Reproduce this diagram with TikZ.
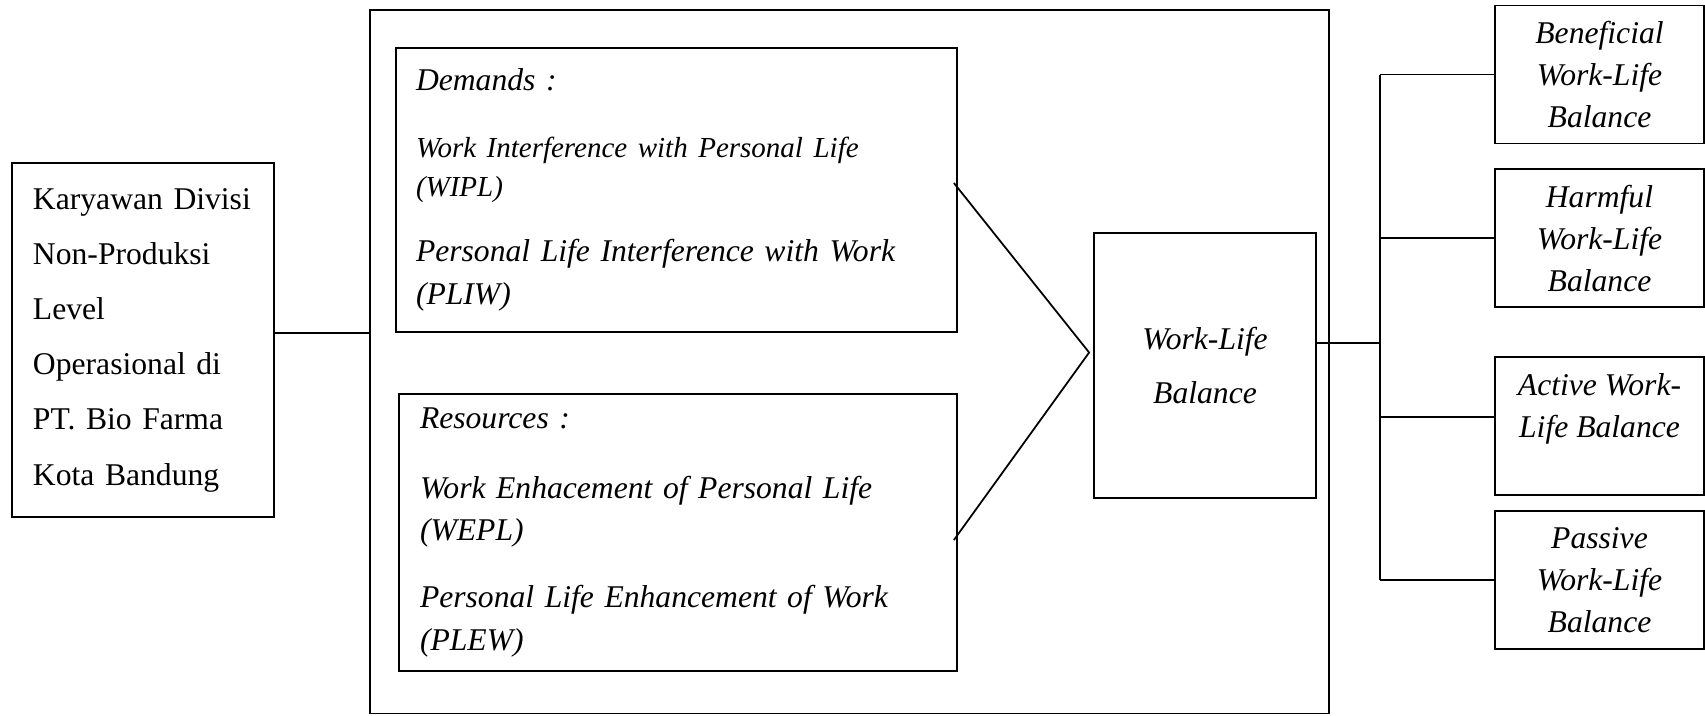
\documentclass[tikz,border=0pt]{standalone}
\usepackage{fontspec}
\setmainfont{Liberation Serif}
\usetikzlibrary{positioning}

\begin{document}
\begin{tikzpicture}[
  blk/.style={rectangle, draw, line width=0.5pt, inner xsep=0.2cm,
    inner ysep=0pt, font=\fontsize{9}{12.2}\selectfont},
  grp/.style={blk, font=\fontsize{9}{12.2}\selectfont\itshape, align=left},
  outc/.style={blk, minimum width=2.09cm, minimum height=1.38cm,
    align=center, font=\fontsize{9}{11.9}\selectfont\itshape},
  link/.style={line width=0.5pt},
]
\useasboundingbox (0,0) rectangle (17.05,-7.15);

%% Frame round demands and resources
\node[blk, minimum width=9.59cm, minimum height=7.036cm] (F) at (8.495,-3.618) {};

%% Population
\node[blk, minimum width=2.62cm, minimum height=3.54cm, text width=2.2cm,
  align=left, font=\fontsize{9}{15.7}\selectfont] (K) at (1.43,-3.40)
  {Karyawan Divisi\\ Non-Produksi\\ Level\\ Operasional di\\ PT. Bio Farma\\ Kota Bandung};

%% Demands / Resources
\node[grp, minimum width=5.61cm, minimum height=2.84cm, text width=5.21cm] (D) at (6.765,-1.90)
  {Demands :\\[6.8pt]
   {\fontsize{8.25}{12.2}\selectfont Work Interference with Personal Life}\\[-1.1pt]
   {\fontsize{8.25}{12.2}\selectfont (WIPL)}\\[6.5pt]
   Personal Life Interference with Work\\
   (PLIW)};
\node[grp, minimum width=5.58cm, minimum height=2.77cm, text width=5.16cm,
  inner xsep=0.21cm] (R) at (6.78,-5.325)
  {Resources :\\[7.6pt]
   Work Enhacement of Personal Life\\
   (WEPL)\\[6.8pt]
   Personal Life Enhancement of Work\\
   (PLEW)};

%% Work-Life Balance
\node[blk, minimum width=2.22cm, minimum height=2.65cm, align=center,
  font=\fontsize{9}{15.6}\selectfont\itshape] (W) at (12.05,-3.655)
  {Work-Life\\ Balance};

%% Outcomes
\node[outc] (B1) at (15.995,-0.745) {Beneficial\\ Work-Life\\ Balance};
\node[outc] (B2) at (15.995,-2.383) {Harmful\\ Work-Life\\ Balance};
\node[outc] (B3) at (15.995,-4.262) {Active Work-\\Life Balance\\ \mbox{}};
\node[outc] (B4) at (15.995,-5.803) {Passive\\ Work-Life\\ Balance};

%% Connectors
\draw[link] ([yshift=0.07cm]K.east) coordinate (kl) -- (kl -| F.west);
\coordinate (conv) at ([xshift=-0.04cm,yshift=0.13cm]W.west);
\draw[link] ([xshift=-0.04cm,yshift=0.07cm]D.east) -- (conv)
  -- ([xshift=-0.04cm,yshift=-0.075cm]R.east);

\coordinate (spine) at (13.80,0);
\draw[link] ([yshift=0.225cm]W.east) coordinate (wl) -- (wl -| spine);
\draw[link] (spine |- B1.west) -- (spine |- B4.west);
\foreach \b/\s in {B1/0, B2/0, B3/0.09, B4/0}{
  \draw[link] ([yshift=\s cm]\b.west) coordinate (t) -- (t -| spine);
}
\end{tikzpicture}
\end{document}
